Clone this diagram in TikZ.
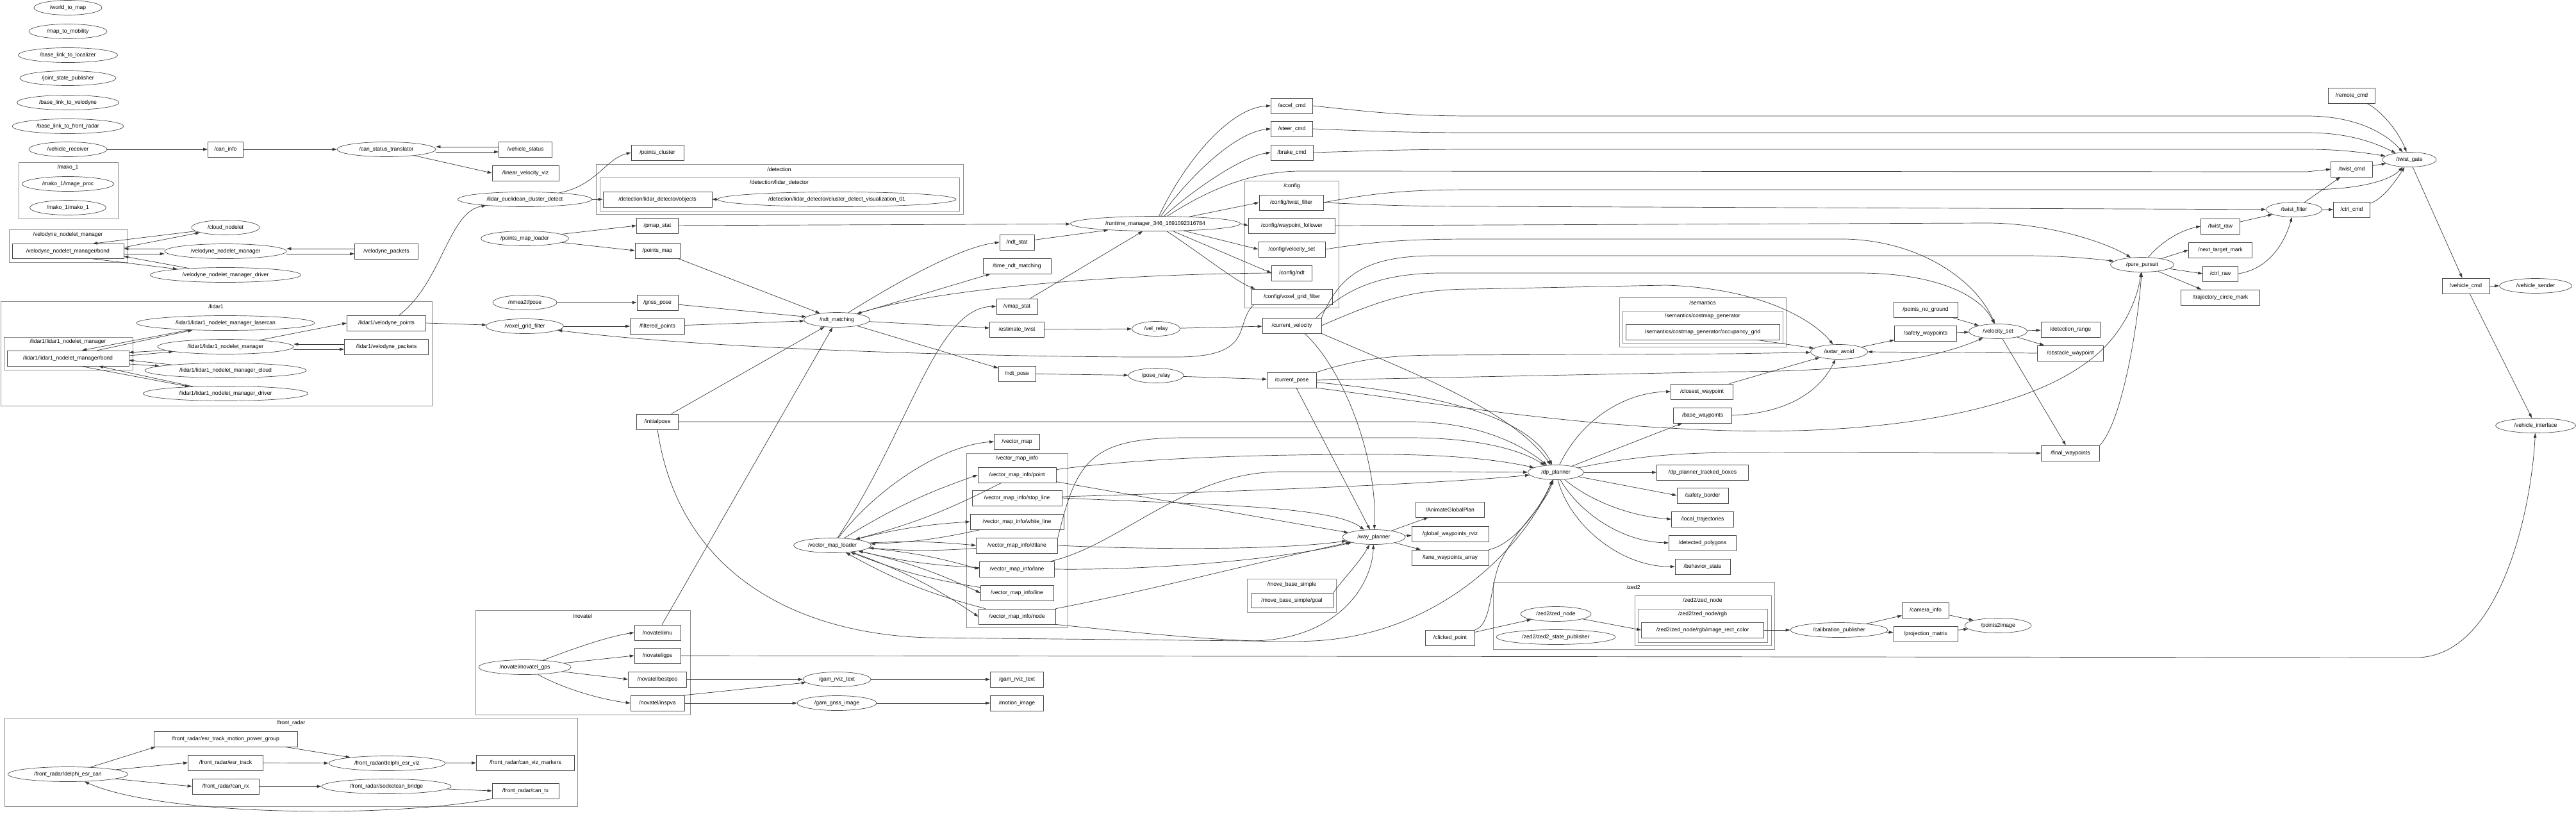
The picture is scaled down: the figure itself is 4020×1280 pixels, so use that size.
\documentclass[tikz,border=0pt]{standalone}
\usepackage{fontspec}
\setmainfont{Liberation Sans}
\usetikzlibrary{arrows.meta,shapes.geometric}
\catcode`\_=12
\begin{document}
\begin{tikzpicture}[x=1pt,y=-1pt,
  every node/.style={font=\fontsize{8.6}{10}\selectfont, text=black},
  topic/.style={draw=black!70, line width=0.7pt, rectangle, fill=white, inner sep=0pt, minimum height=24pt},
  rosnode/.style={draw=black!70, line width=0.7pt, ellipse, fill=white, inner sep=0pt, minimum height=23pt},
  cluster/.style={draw=black!45, line width=0.8pt},
  clabel/.style={inner sep=0pt},
  edge/.style={draw=black!78, line width=0.7pt, -{Triangle[length=7pt,width=4.5pt]}}]
\fill[white] (0,0) rectangle (4020,1280);
\useasboundingbox (0,0) rectangle (4020,1280);

% ---------------- clusters ----------------
\draw[cluster] (29,253) rectangle (184,341);   \node[clabel] (cmako) at (106,261) {/mako_1};
\draw[cluster] (14,358) rectangle (199,409);   \node[clabel] (cvnm) at (106,366) {/velodyne_nodelet_manager};
\draw[cluster] (1,470) rectangle (674,633);    \node[clabel] (clidar) at (337,478) {/lidar1};
\draw[cluster] (6,526) rectangle (207,577);    \node[clabel] (cl1nm) at (106,533) {/lidar1/lidar1_nodelet_manager};
\draw[cluster] (930,256) rectangle (1503,334); \node[clabel] (cdet) at (1216,264) {/detection};
\draw[cluster] (936,277) rectangle (1497,329); \node[clabel] (cdetl) at (1216,285) {/detection/lidar_detector};
\draw[cluster] (1942,282) rectangle (2089,480);\node[clabel] (ccfg) at (2016,290) {/config};
\draw[cluster] (2527,464) rectangle (2787,541);\node[clabel] (csem) at (2657,472) {/semantics};
\draw[cluster] (2532,485) rectangle (2782,535);\node[clabel] (ccost) at (2657,493) {/semantics/costmap_generator};
\draw[cluster] (7,1120) rectangle (901,1258);  \node[clabel] (cfr) at (454,1128) {/front_radar};
\draw[cluster] (742,952) rectangle (1077,1115);\node[clabel] (cnov) at (909,961) {/novatel};
\draw[cluster] (1508,707) rectangle (1666,979);\node[clabel] (cvmi) at (1587,715) {/vector_map_info};
\draw[cluster] (1946,903) rectangle (2085,955);\node[clabel] (cmbs) at (2016,912) {/move_base_simple};
\draw[cluster] (2330,908) rectangle (2769,1013);\node[clabel] (czed) at (2549,916) {/zed2};
\draw[cluster] (2551,929) rectangle (2764,1007);\node[clabel] (czn) at (2657,937) {/zed2/zed_node};
\draw[cluster] (2556,950) rectangle (2758,1002);\node[clabel] (czrgb) at (2657,958) {/zed2/zed_node/rgb};

% ---------------- ROS nodes (ellipses) ----------------
\node[rosnode, minimum width=106pt] (w2m) at (106,12) {/world_to_map};
\node[rosnode, minimum width=122pt] (m2m) at (106,49) {/map_to_mobility};
\node[rosnode, minimum width=155pt] (bl2loc) at (106,86) {/base_link_to_localizer};
\node[rosnode, minimum width=150pt] (jsp) at (106,122) {/joint_state_publisher};
\node[rosnode, minimum width=159pt] (bl2vel) at (106,160) {/base_link_to_velodyne};
\node[rosnode, minimum width=174pt] (bl2fr) at (106,197) {/base_link_to_front_radar};
\node[rosnode, minimum width=122pt] (vrecv) at (106,233) {/vehicle_receiver};
\node[rosnode, minimum width=154pt] (canstat) at (603,233) {/can_status_translator};
\node[rosnode, minimum width=143pt] (imgproc) at (106,287) {/mako_1/image_proc};
\node[rosnode, minimum width=119pt] (mako) at (106,324) {/mako_1/mako_1};
\node[rosnode, minimum width=106pt] (cloudn) at (352,355) {/cloud_nodelet};
\node[rosnode, minimum width=190pt] (vnm) at (352,392) {/velodyne_nodelet_manager};
\node[rosnode, minimum width=235pt] (vnmd) at (352,429) {/velodyne_nodelet_manager_driver};
\node[rosnode, minimum width=278pt] (l1las) at (352,504) {/lidar1/lidar1_nodelet_manager_lasercan};
\node[rosnode, minimum width=212pt] (l1nm) at (352,541) {/lidar1/lidar1_nodelet_manager};
\node[rosnode, minimum width=252pt] (l1cloud) at (352,578) {/lidar1/lidar1_nodelet_manager_cloud};
\node[rosnode, minimum width=257pt] (l1drv) at (352,614) {/lidar1/lidar1_nodelet_manager_driver};
\node[rosnode, minimum width=209pt] (lecd) at (819,311) {/lidar_euclidean_cluster_detect};
\node[rosnode, minimum width=372pt] (cdviz) at (1306,311) {/detection/lidar_detector/cluster_detect_visualization_01};
\node[rosnode, minimum width=137pt] (pml) at (819,372) {/points_map_loader};
\node[rosnode, minimum width=100pt] (nmea) at (819,472) {/nmea2tfpose};
\node[rosnode, minimum width=121pt] (vgf) at (819,509) {/voxel_grid_filter};
\node[rosnode, minimum width=103pt] (ndt) at (1306,499) {/ndt_matching};
\node[rosnode, minimum width=265pt] (rtm) at (1803,349) {/runtime_manager_346_1691092316784};
\node[rosnode, minimum width=75pt] (velrelay) at (1804,513) {/vel_relay};
\node[rosnode, minimum width=86pt] (poserelay) at (1804,586) {/pose_relay};
\node[rosnode, minimum width=89pt] (astar) at (2870,549) {/astar_avoid};
\node[rosnode, minimum width=91pt] (velset) at (3118,517) {/velocity_set};
\node[rosnode, minimum width=99pt] (pp) at (3343,413) {/pure_pursuit};
\node[rosnode, minimum width=84pt] (tgate) at (3760,249) {/twist_gate};
\node[rosnode, minimum width=87pt] (tfilter) at (3580,327) {/twist_filter};
\node[rosnode, minimum width=113pt] (vsender) at (3957,446) {/vehicle_sender};
\node[rosnode, minimum width=125pt] (vif) at (3957,664) {/vehicle_interface};
\node[rosnode, minimum width=187pt] (frcan) at (106,1208) {/front_radar/delphi_esr_can};
\node[rosnode, minimum width=182pt] (frviz) at (604,1191) {/front_radar/delphi_esr_viz};
\node[rosnode, minimum width=202pt] (frsock) at (603,1227) {/front_radar/socketcan_bridge};
\node[rosnode, minimum width=121pt] (vml) at (1299,851) {/vector_map_loader};
\node[rosnode, minimum width=144pt] (ngps) at (819,1041) {/novatel/novatel_gps};
\node[rosnode, minimum width=106pt] (gnmtext) at (1306,1060) {/gam_rviz_text};
\node[rosnode, minimum width=124pt] (gnmimg) at (1306,1097) {/gam_gnss_image};
\node[rosnode, minimum width=98pt] (wayp) at (2144,838) {/way_planner};
\node[rosnode, minimum width=87pt] (dpp) at (2428,737) {/dp_planner};
\node[rosnode, minimum width=110pt] (zednode) at (2428,958) {/zed2/zed_node};
\node[rosnode, minimum width=186pt] (zedsp) at (2428,994) {/zed2/zed2_state_publisher};
\node[rosnode, minimum width=152pt] (calib) at (2870,983) {/calibration_publisher};
\node[rosnode, minimum width=104pt] (p2i) at (3118,976) {/points2image};

% ---------------- topics (boxes) ----------------
\node[topic, minimum width=55pt] (caninfo) at (352,233) {/can_info};
\node[topic, minimum width=174pt, minimum height=23pt] (vbond) at (106,392) {/velodyne_nodelet_manager/bond};
\node[topic, minimum width=99pt] (vpk) at (603,392) {/velodyne_packets};
\node[topic, minimum width=190pt] (l1bond) at (106,559) {/lidar1/lidar1_nodelet_manager/bond};
\node[topic, minimum width=123pt] (l1vp) at (603,504) {/lidar1/velodyne_points};
\node[topic, minimum width=131pt] (l1pk) at (603,541) {/lidar1/velodyne_packets};
\node[topic, minimum width=83pt] (vstatus) at (820,233) {/vehicle_status};
\node[topic, minimum width=104pt] (linviz) at (820,270) {/linear_velocity_viz};
\node[topic, minimum width=82pt] (pcluster) at (1026,238) {/points_cluster};
\node[topic, minimum width=170pt] (objs) at (1026,311) {/detection/lidar_detector/objects};
\node[topic, minimum width=65pt] (pmapstat) at (1026,352) {/pmap_stat};
\node[topic, minimum width=70pt] (pmap) at (1026,391) {/points_map};
\node[topic, minimum width=64pt] (gnsspose) at (1026,472) {/gnss_pose};
\node[topic, minimum width=85pt] (fpts) at (1026,509) {/filtered_points};
\node[topic, minimum width=54pt] (ndtstat) at (1587,378) {/ndt_stat};
\node[topic, minimum width=106pt] (tndt) at (1587,415) {/time_ndt_matching};
\node[topic, minimum width=64pt] (vmapstat) at (1587,478) {/vmap_stat};
\node[topic, minimum width=85pt] (esttw) at (1587,514) {/estimate_twist};
\node[topic, minimum width=58pt] (ndtpose) at (1587,583) {/ndt_pose};
\node[topic, minimum width=65pt] (accel) at (2016,165) {/accel_cmd};
\node[topic, minimum width=65pt] (steer) at (2016,201) {/steer_cmd};
\node[topic, minimum width=66pt] (brake) at (2016,238) {/brake_cmd};
\node[topic, minimum width=100pt] (cfgtf) at (2015,316) {/config/twist_filter};
\node[topic, minimum width=135pt] (cfgwf) at (2016,352) {/config/waypoint_follower};
\node[topic, minimum width=104pt] (cfgvs) at (2016,389) {/config/velocity_set};
\node[topic, minimum width=63pt] (cfgndt) at (2016,426) {/config/ndt};
\node[topic, minimum width=126pt] (cfgvgf) at (2016,463) {/config/voxel_grid_filter};
\node[topic, minimum width=92pt] (curvel) at (2016,508) {/current_velocity};
\node[topic, minimum width=77pt] (curpose) at (2016,593) {/current_pose};
\node[topic, minimum width=240pt] (occ) at (2657,518) {/semantics/costmap_generator/occupancy_grid};
\node[topic, minimum width=97pt] (closest) at (2656,611) {/closest_waypoint};
\node[topic, minimum width=100pt] (png) at (3005,483) {/points_no_ground};
\node[topic, minimum width=97pt] (safewp) at (3005,520) {/safety_waypoints};
\node[topic, minimum width=92pt] (detrange) at (3231,514) {/detection_range};
\node[topic, minimum width=103pt] (obswp) at (3231,551) {/obstacle_waypoint};
\node[topic, minimum width=73pt] (remote) at (3670,149) {/remote_cmd};
\node[topic, minimum width=65pt] (twcmd) at (3670,264) {/twist_cmd};
\node[topic, minimum width=57pt] (ctrlcmd) at (3670,327) {/ctrl_cmd};
\node[topic, minimum width=61pt] (twraw) at (3465,353) {/twist_raw};
\node[topic, minimum width=99pt] (ntm) at (3465,390) {/next_target_mark};
\node[topic, minimum width=55pt] (ctrlraw) at (3465,427) {/ctrl_raw};
\node[topic, minimum width=123pt] (tcm) at (3465,464) {/trajectory_circle_mark};
\node[topic, minimum width=74pt] (vcmd) at (3848,446) {/vehicle_cmd};
\node[topic, minimum width=224pt] (frmpg) at (352,1153) {/front_radar/esr_track_motion_power_group};
\node[topic, minimum width=117pt] (frtrack) at (352,1190) {/front_radar/esr_track};
\node[topic, minimum width=104pt] (frrx) at (352,1227) {/front_radar/can_rx};
\node[topic, minimum width=153pt] (frmark) at (820,1190) {/front_radar/can_viz_markers};
\node[topic, minimum width=104pt] (frtx) at (820,1234) {/front_radar/can_tx};
\node[topic, minimum width=65pt] (initp) at (1026,658) {/initialpose};
\node[topic, minimum width=72pt] (imu) at (1026,987) {/novatel/imu};
\node[topic, minimum width=72pt] (gps) at (1026,1023) {/novatel/gps};
\node[topic, minimum width=91pt] (bestpos) at (1026,1060) {/novatel/bestpos};
\node[topic, minimum width=84pt] (inspva) at (1026,1097) {/novatel/inspva};
\node[topic, minimum width=83pt] (gamtext) at (1587,1060) {/gam_rviz_text};
\node[topic, minimum width=83pt] (motimg) at (1587,1097) {/motion_image};
\node[topic, minimum width=71pt] (vmap) at (1587,689) {/vector_map};
\node[topic, minimum width=122pt] (vmipoint) at (1587,741) {/vector_map_info/point};
\node[topic, minimum width=140pt] (vmistop) at (1587,777) {/vector_map_info/stop_line};
\node[topic, minimum width=146pt] (vmiwhite) at (1587,814) {/vector_map_info/white_line};
\node[topic, minimum width=127pt] (vmidt) at (1587,851) {/vector_map_info/dtlane};
\node[topic, minimum width=117pt] (vmilane) at (1587,888) {/vector_map_info/lane};
\node[topic, minimum width=114pt] (vmiline) at (1587,925) {/vector_map_info/line};
\node[topic, minimum width=120pt] (vminode) at (1587,962) {/vector_map_info/node};
\node[topic, minimum width=128pt, minimum height=22pt] (mbgoal) at (2016,937) {/move_base_simple/goal};
\node[topic, minimum width=107pt] (agp) at (2263,795) {/AnimateGlobalPlan};
\node[topic, minimum width=120pt] (gwr) at (2263,833) {/global_waypoints_rviz};
\node[topic, minimum width=120pt] (lwa) at (2263,870) {/lane_waypoints_array};
\node[topic, minimum width=77pt] (clicked) at (2263,995) {/clicked_point};
\node[topic, minimum width=191pt] (rgbimg) at (2657,983) {/zed2/zed_node/rgb/image_rect_color};
\node[topic, minimum width=143pt] (dptb) at (2657,737) {/dp_planner_tracked_boxes};
\node[topic, minimum width=80pt] (sborder) at (2657,773) {/safety_border};
\node[topic, minimum width=97pt] (ltraj) at (2657,810) {/local_trajectories};
\node[topic, minimum width=105pt] (detpoly) at (2657,847) {/detected_polygons};
\node[topic, minimum width=86pt] (bstate) at (2657,884) {/behavior_state};
\node[topic, minimum width=91pt] (basewp) at (2657,648) {/base_waypoints};
\node[topic, minimum width=91pt] (finalwp) at (3231,707) {/final_waypoints};
\node[topic, minimum width=73pt] (caminfo) at (3005,952) {/camera_info};
\node[topic, minimum width=100pt] (projm) at (3005,989) {/projection_matrix};

% ---------------- edges ----------------
% top left
\draw[edge] (vrecv) -- (caninfo);
\draw[edge] (caninfo) -- (canstat);
\draw[edge] ([yshift=4pt]vstatus.west) -- ([yshift=4pt]canstat.east);
\draw[edge] ([yshift=-4pt]canstat.east) -- ([yshift=-4pt]vstatus.west);
\draw[edge] (canstat) -- (linviz.west);
% velodyne manager
\draw[edge] (cloudn) -- ([xshift=39pt]vbond.north);
\draw[edge] ([yshift=6pt]vbond.east) -- (cloudn);
\draw[edge] ([yshift=4pt]vnm.west) -- ([yshift=4pt]vbond.east);
\draw[edge] ([yshift=-4pt]vbond.east) -- ([yshift=-4pt]vnm.west);
\draw[edge] (vnmd) -- ([yshift=-8pt]vbond.east);
\draw[edge] ([xshift=39pt]vbond.south) -- (vnmd);
\draw[edge] ([yshift=4pt]vpk.west) -- ([yshift=4pt]vnm.east);
\draw[edge] ([yshift=-4pt]vnm.east) -- ([yshift=-4pt]vpk.west);
% lidar1
\draw[edge] (l1las) -- ([xshift=22pt]l1bond.north);
\draw[edge] ([xshift=46pt]l1bond.north) -- (l1las);
\draw[edge] (l1nm) -- ([yshift=9pt]l1bond.east);
\draw[edge] ([yshift=4pt]l1bond.east) -- (l1nm);
\draw[edge] (l1cloud) -- ([yshift=-3pt]l1bond.east);
\draw[edge] ([yshift=-9pt]l1bond.east) -- (l1cloud);
\draw[edge] (l1drv) -- ([xshift=48pt]l1bond.south);
\draw[edge] ([xshift=20pt]l1bond.south) -- (l1drv);
\draw[edge] (l1nm) -- (l1vp.west);
\draw[edge] ([yshift=4pt]l1pk.west) -- ([yshift=4pt]l1nm.east);
\draw[edge] ([yshift=-4pt]l1nm.east) -- ([yshift=-4pt]l1pk.west);
\draw[edge] ([xshift=20pt]l1vp.north) .. controls (690,440) and (700,330) .. (lecd);
\draw[edge] (l1vp.east) -- (vgf);
% detection / map / localisation
\draw[edge] (lecd) .. controls (930,290) and (945,248) .. (pcluster.west);
\draw[edge] (lecd) -- (objs);
\draw[edge] (cdviz) -- (objs);
\draw[edge] (pml) -- (pmapstat.west);
\draw[edge] (pml) -- (pmap.west);
\draw[edge] (pmapstat) -- (rtm);
\draw[edge] (pmap) -- (ndt);
\draw[edge] (nmea) -- (gnsspose);
\draw[edge] (gnsspose) -- (ndt);
\draw[edge] (vgf) -- (fpts);
\draw[edge] (fpts) -- (ndt);
\draw[edge] ([xshift=4pt]cfgvgf.south west) .. controls (1925,505) and (1960,556) .. (1840,557) .. controls (1650,558) and (1150,550) .. (vgf);
\draw[edge] (initp) -- (ndt);
\draw[edge] (imu) -- (ndt);
\draw[edge] (ndt) .. controls (1400,440) and (1500,385) .. (ndtstat.west);
\draw[edge] (ndt) -- (tndt);
\draw[edge] (cfgndt.west) .. controls (1700,428) and (1450,455) .. (ndt);
\draw[edge] (ndt) -- (esttw);
\draw[edge] (ndt) -- (ndtpose);
\draw[edge] (ndtstat) -- (rtm);
\draw[edge] (vmapstat) -- (rtm);
\draw[edge] (vml) .. controls (1420,670) and (1460,480) .. (vmapstat.west);
\draw[edge] (esttw) -- (velrelay);
\draw[edge] (velrelay) -- (curvel);
\draw[edge] (ndtpose) -- (poserelay);
\draw[edge] (poserelay) -- (curpose);
% runtime manager
\draw[edge] (rtm) .. controls (1850,250) and (1920,168) .. (accel.west);
\draw[edge] (rtm) .. controls (1860,270) and (1930,206) .. (steer.west);
\draw[edge] (rtm) .. controls (1870,290) and (1940,244) .. (brake.west);
\draw[edge] (rtm) .. controls (1880,300) and (1950,265) .. (2040,267) -- (3600,268) -- (twcmd.west);
\draw[edge] (rtm) -- (cfgtf.west);
\draw[edge] (rtm.east) -- (cfgwf.west);
\draw[edge] (rtm) -- (cfgvs.west);
\draw[edge] (rtm) -- (cfgndt.west);
\draw[edge] (rtm) .. controls (1880,400) and (1930,440) .. ([xshift=6pt]cfgvgf.north west);
% commands to twist gate
\draw[edge] (accel.east) .. controls (2150,176) and (2200,181) .. (2300,181) -- (3600,181) .. controls (3680,181) and (3725,210) .. (tgate);
\draw[edge] (steer.east) .. controls (2150,205) and (2200,207) .. (2300,207) -- (3600,207) .. controls (3670,207) and (3710,225) .. (tgate);
\draw[edge] (brake.east) .. controls (2150,235) and (2200,233) .. (2300,233) -- (3600,233) .. controls (3660,233) and (3700,240) .. (tgate);
\draw[edge] (remote) .. controls (3720,175) and (3745,210) .. (tgate);
\draw[edge] (twcmd) -- (tgate);
\draw[edge] (cfgtf.east) .. controls (2150,300) and (2200,296) .. (2300,296) -- (3600,296) .. controls (3680,296) and (3730,282) .. (tgate);
\draw[edge] (cfgtf.east) .. controls (2150,320) and (2200,322) .. (2300,322) -- (tfilter);
\draw[edge] (cfgwf.east) -- (3100,348) .. controls (3200,348) and (3290,380) .. (pp);
\draw[edge] (cfgvs.east) .. controls (2150,376) and (2200,373) .. (2300,373) -- (2880,373) .. controls (3000,376) and (3085,440) .. (velset);
% current velocity
\draw[edge] (curvel.north east) .. controls (2090,430) and (2130,399) .. (2240,399) -- (3160,399) .. controls (3220,399) and (3270,404) .. (pp);
\draw[edge] ([xshift=-8pt]curvel.north east) .. controls (2090,460) and (2140,426) .. (2250,426) -- (2900,426) .. controls (3020,426) and (3090,460) .. (velset);
\draw[edge] (curvel.east) .. controls (2150,470) and (2200,451) .. (2300,451) -- (2600,445) .. controls (2750,450) and (2830,500) .. (astar);
\draw[edge] ([xshift=20pt]curvel.south) .. controls (2100,580) and (2150,720) .. (wayp);
\draw[edge] (curvel.south east) .. controls (2200,580) and (2360,640) .. (dpp);
% current pose
\draw[edge] (curpose.north east) .. controls (2120,560) and (2170,554) .. (2250,554) -- (2700,552) -- (astar);
\draw[edge] (curpose.east) -- (2700,580) .. controls (2900,580) and (3020,560) .. (velset);
\draw[edge] (curpose) .. controls (2200,610) and (2380,640) .. (dpp);
\draw[edge] (curpose.south east) .. controls (2250,630) and (2450,665) .. (2700,672) .. controls (2950,678) and (3150,640) .. (3250,570) .. controls (3310,530) and (3335,470) .. (pp);
\draw[edge] ([xshift=7pt]curpose.south) -- (wayp);
% dp planner
\draw[edge] (dpp) .. controls (2470,650) and (2540,612) .. (closest.west);
\draw[edge] (dpp) -- (basewp);
\draw[edge] (dpp) .. controls (2550,712) and (2620,706) .. (2720,706) -- (finalwp.west);
\draw[edge] (dpp) -- (dptb);
\draw[edge] (dpp) -- (sborder.west);
\draw[edge] (dpp) .. controls (2480,780) and (2540,805) .. (ltraj.west);
\draw[edge] (dpp) .. controls (2465,800) and (2530,845) .. (detpoly.west);
\draw[edge] (dpp) .. controls (2450,820) and (2530,885) .. (bstate.west);
% astar / velocity set
\draw[edge] (closest) -- (astar);
\draw[edge] (basewp.east) .. controls (2790,645) and (2840,610) .. (astar);
\draw[edge] (occ) -- (astar);
\draw[edge] (astar) -- (safewp);
\draw[edge] (safewp) -- (velset);
\draw[edge] (png) -- (velset);
\draw[edge] (velset) -- (detrange);
\draw[edge] (velset) -- (obswp);
\draw[edge] (obswp.west) -- (astar.east);
\draw[edge] (velset) -- (finalwp);
\draw[edge] (finalwp.north east) .. controls (3310,660) and (3335,520) .. (pp);
% pure pursuit / twist
\draw[edge] (pp) .. controls (3370,380) and (3400,360) .. (twraw.west);
\draw[edge] (pp) -- (ntm.west);
\draw[edge] (pp) -- (ctrlraw.west);
\draw[edge] (pp) -- (tcm);
\draw[edge] (twraw) -- (tfilter);
\draw[edge] (ctrlraw.east) .. controls (3540,420) and (3565,380) .. (tfilter);
\draw[edge] (tfilter) -- (twcmd);
\draw[edge] (tfilter) -- (ctrlcmd);
\draw[edge] (ctrlcmd) .. controls (3720,310) and (3740,280) .. (tgate);
\draw[edge] (tgate) -- (vcmd);
\draw[edge] (vcmd) -- (vsender);
\draw[edge] (vcmd) -- (vif);
\draw[edge] (gps.east) -- (3770,1026) .. controls (3900,1026) and (3950,800) .. (vif);
% vector map
\draw[edge] (vml) .. controls (1370,760) and (1470,695) .. (vmap.west);
\draw[edge] (vml) to[bend left=6] (vmipoint.west);
\draw[edge] (vmipoint) to[bend left=6] (vml);
\draw[edge] (vml) to[bend left=5] (vmiwhite.west);
\draw[edge] (vmiwhite) to[bend left=5] (vml);
\draw[edge] (vml) to[bend left=4] (vmidt.west);
\draw[edge] (vmidt) to[bend left=4] (vml);
\draw[edge] (vml) to[bend left=5] (vmilane.west);
\draw[edge] (vmilane) to[bend left=5] (vml);
\draw[edge] (vml) to[bend left=6] (vmiline.west);
\draw[edge] (vmiline) to[bend left=6] (vml);
\draw[edge] (vml) to[bend left=7] (vminode.west);
\draw[edge] (vminode) to[bend left=7] (vml);
\draw[edge] (vmipoint) .. controls (1800,712) and (2000,709) .. (2150,709) .. controls (2280,709) and (2350,720) .. (dpp);
\draw[edge] (vmipoint) -- (wayp);
\draw[edge] (vmistop) .. controls (1900,768) and (2250,755) .. (dpp);
\draw[edge] (vmistop.east) .. controls (1900,788) and (2080,790) .. (wayp);
\draw[edge] (vmidt.north east) .. controls (1680,720) and (1700,683) .. (1850,683) -- (2200,683) .. controls (2300,683) and (2370,700) .. (dpp);
\draw[edge] (vmidt.east) .. controls (1800,858) and (2000,858) .. (wayp);
\draw[edge] (vmilane) .. controls (1750,850) and (1850,736) .. (2000,736) -- (2250,736) -- (dpp);
\draw[edge] (vmilane.east) .. controls (1800,890) and (2000,873) .. (wayp);
\draw[edge] (vminode.north east) .. controls (1800,920) and (1950,880) .. (wayp);
\draw[edge] (vminode.south east) .. controls (1800,990) and (1950,1005) .. (2050,1000) .. controls (2250,990) and (2380,850) .. (dpp);
\draw[edge] (initp.east) -- (2200,658) .. controls (2300,658) and (2370,690) .. (dpp);
\draw[edge] (initp.south) .. controls (1060,900) and (1250,990) .. (1450,995) -- (1950,1000) .. controls (2080,1000) and (2140,920) .. (wayp);
\draw[edge] (mbgoal.north east) .. controls (2090,910) and (2120,880) .. (wayp);
\draw[edge] (wayp) -- (agp);
\draw[edge] (wayp) -- (gwr);
\draw[edge] (wayp) -- (lwa);
\draw[edge] (lwa.north east) .. controls (2360,850) and (2400,800) .. (dpp);
\draw[edge] (clicked.north east) .. controls (2330,975) and (2325,900) .. (2345,870) .. controls (2370,820) and (2410,790) .. (dpp);
\draw[edge] (clicked) -- (zednode);
\draw[edge] (zednode) -- (rgbimg.west);
\draw[edge] (rgbimg) -- (calib);
\draw[edge] (calib) -- (caminfo);
\draw[edge] (calib) -- (projm);
\draw[edge] (caminfo) -- (p2i);
\draw[edge] (projm) -- (p2i);
% front radar
\draw[edge] (frcan) -- ([xshift=3pt]frmpg.south west);
\draw[edge] (frcan) -- (frtrack.west);
\draw[edge] (frcan) -- (frrx.west);
\draw[edge] ([xshift=-20pt]frmpg.south east) -- (frviz);
\draw[edge] (frtrack) -- (frviz);
\draw[edge] (frrx) -- (frsock);
\draw[edge] (frviz) -- (frmark);
\draw[edge] (frsock) -- (frtx.west);
\draw[edge] (frtx.south west) .. controls (600,1278) and (250,1272) .. (frcan);
% novatel
\draw[edge] (ngps) .. controls (900,1010) and (950,993) .. (imu.west);
\draw[edge] (ngps) -- (gps.west);
\draw[edge] (ngps) -- (bestpos.west);
\draw[edge] (ngps) .. controls (880,1075) and (940,1092) .. (inspva.west);
\draw[edge] (bestpos) -- (gnmtext);
\draw[edge] (inspva.north east) -- (gnmtext);
\draw[edge] (inspva) -- (gnmimg);
\draw[edge] (gnmtext) -- (gamtext);
\draw[edge] (gnmimg) -- (motimg);
\end{tikzpicture}
\end{document}
